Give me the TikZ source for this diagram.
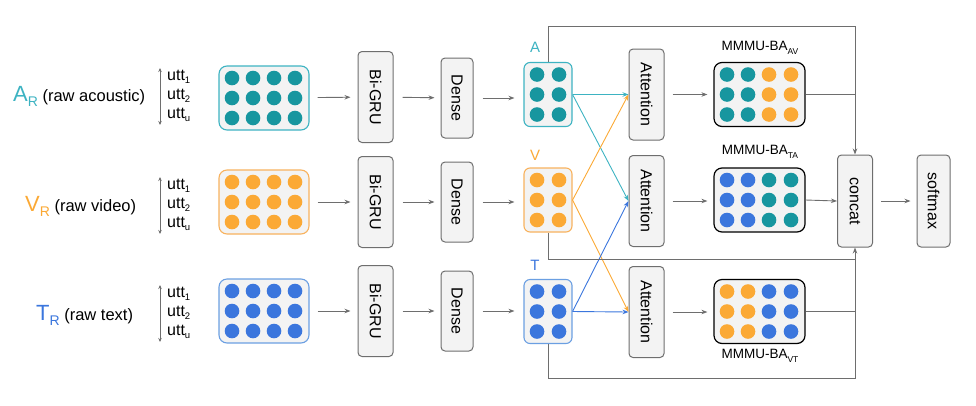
\documentclass[tikz,border=0pt]{standalone}
\usepackage{fontspec}
\setmainfont{Liberation Sans}
\usetikzlibrary{arrows.meta}
\definecolor{cteal}{HTML}{17969F}
\definecolor{ctealL}{HTML}{3DB3C2}
\definecolor{corange}{HTML}{FBA935}
\definecolor{corangeL}{HTML}{F8B25E}
\definecolor{cblue}{HTML}{3B76DD}
\definecolor{cblueL}{HTML}{6B9FE2}
\definecolor{cline}{HTML}{6E6E6E}
\definecolor{cfill}{HTML}{F3F3F3}
\newcommand{\sub}[2]{#1\raisebox{-3.5pt}{\fontsize{9.5}{9.5}\selectfont #2}}
\newcommand{\subm}[2]{#1\raisebox{-3.5pt}{\fontsize{8.5}{8.5}\selectfont #2}}
\begin{document}
\begin{tikzpicture}[x=1pt,y=-1pt,
  gbox/.style={draw=cline, fill=cfill, rounded corners=4pt, line width=1pt, inner sep=0pt, font=\fontsize{16}{16}\selectfont},
  inbox/.style={fill=cfill, rounded corners=8pt, line width=1.1pt, minimum width=90pt, minimum height=64pt, inner sep=0pt},
  smbox/.style={fill=cfill, rounded corners=6pt, line width=1.1pt, minimum width=48pt, minimum height=64pt, inner sep=0pt},
  mbox/.style={draw=black, fill=cfill, rounded corners=8pt, line width=1.2pt, minimum width=91pt, minimum height=64pt, inner sep=0pt},
  arr/.style={draw=cline, line width=0.9pt, -{Stealth[length=6pt,width=4.5pt]}},
  ln/.style={draw=cline, line width=0.9pt},
  carr/.style={line width=0.9pt, -{Stealth[length=6pt,width=4.5pt]}},
  lbl/.style={font=\fontsize{16.5}{16.5}\selectfont, anchor=west, inner sep=0pt},
  utt/.style={font=\fontsize{16}{16}\selectfont, anchor=west, inner sep=0pt},
  dbl/.style={draw=cline, line width=0.9pt, {Stealth[length=4pt,width=3.5pt]}-{Stealth[length=4pt,width=3.5pt]}}
]
\useasboundingbox (0,0) rectangle (976,405);

% ---------- left labels ----------
\node[lbl] (lA) at (13,96) {\textcolor{ctealL}{{\fontsize{22}{22}\selectfont A}\raisebox{-5pt}{\fontsize{14}{14}\selectfont R}} (raw acoustic)};
\node[lbl] (lV) at (25,206) {\textcolor{corange}{{\fontsize{22}{22}\selectfont V}\raisebox{-5pt}{\fontsize{14}{14}\selectfont R}} (raw video)};
\node[lbl] (lT) at (36,315) {\textcolor{cblue}{{\fontsize{22}{22}\selectfont T}\raisebox{-5pt}{\fontsize{14}{14}\selectfont R}} (raw text)};

% ---------- utt stacks ----------
\foreach \r/\yc in {A/96, V/205, T/313}{
  \coordinate (ut\r) at (160,\yc-28);
  \coordinate (ub\r) at (160,\yc+29);
  \draw[dbl] (ut\r) -- (ub\r);
  \node[utt] (u1\r) at (167,\yc-19) {\sub{utt}{1}};
  \node[utt] (u2\r) at (167,\yc+0) {\sub{utt}{2}};
  \node[utt] (u3\r) at (167,\yc+19) {\sub{utt}{u}};
}

% ---------- input boxes ----------
\node[inbox, draw=ctealL] (inA) at (264,98) {};
\node[inbox, draw=corangeL] (inV) at (264,202) {};
\node[inbox, draw=cblueL] (inT) at (264,311) {};
\foreach \x in {232,253,274,295}{
  \foreach \dy in {-20,0,20}{
    \fill[cteal] (\x,98+\dy) circle (7.3);
    \fill[corange] (\x,202+\dy) circle (7.3);
    \fill[cblue] (\x,311+\dy) circle (7.3);
  }
}

% ---------- Bi-GRU ----------
\node[gbox, minimum width=35pt, minimum height=91pt] (gA) at (375.5,97) {\rotatebox{-90}{Bi-GRU}};
\node[gbox, minimum width=35pt, minimum height=91pt] (gV) at (375.5,202) {\rotatebox{-90}{Bi-GRU}};
\node[gbox, minimum width=35pt, minimum height=91pt] (gT) at (375.5,311) {\rotatebox{-90}{Bi-GRU}};
% ---------- Dense ----------
\node[gbox, minimum width=32pt, minimum height=80pt] (dA) at (457,98) {\rotatebox{-90}{Dense}};
\node[gbox, minimum width=32pt, minimum height=80pt] (dV) at (457,202) {\rotatebox{-90}{Dense}};
\node[gbox, minimum width=32pt, minimum height=80pt] (dT) at (457,311) {\rotatebox{-90}{Dense}};

% ---------- small boxes ----------
\node[smbox, draw=ctealL] (aA) at (548,94.5) {};
\node[smbox, draw=corangeL] (aV) at (548,200) {};
\node[smbox, draw=cblueL] (aT) at (548,311.5) {};
\foreach \x in {537,559}{
  \foreach \dy in {-20,0,20}{
    \fill[cteal] (\x,94.5+\dy) circle (7.3);
    \fill[corange] (\x,200+\dy) circle (7.3);
    \fill[cblue] (\x,311.5+\dy) circle (7.3);
  }
}
\node[text=ctealL, font=\fontsize{15}{15}\selectfont] (tA) at (535,47) {A};
\node[text=corange, font=\fontsize{15}{15}\selectfont] (tV) at (535,155) {V};
\node[text=cblue, font=\fontsize{15}{15}\selectfont] (tT) at (535,265) {T};

% ---------- Attention ----------
\node[gbox, minimum width=35pt, minimum height=91pt] (attA) at (646.5,94.5) {\rotatebox{-90}{Attention}};
\node[gbox, minimum width=35pt, minimum height=91pt] (attV) at (646.5,201) {\rotatebox{-90}{Attention}};
\node[gbox, minimum width=35pt, minimum height=91pt] (attT) at (646.5,312) {\rotatebox{-90}{Attention}};

% ---------- MMMU boxes ----------
\node[mbox] (mAV) at (759.5,94.5) {};
\node[mbox] (mTA) at (759.5,200) {};
\node[mbox] (mVT) at (759.5,311.5) {};
\foreach \dy in {-20,0,20}{
  \foreach \x in {727,748}{
    \fill[cteal] (\x,94.5+\dy) circle (7.3);
    \fill[cblue] (\x,200+\dy) circle (7.3);
    \fill[corange] (\x,311.5+\dy) circle (7.3);
  }
  \foreach \x in {769,791}{
    \fill[corange] (\x,94.5+\dy) circle (7.3);
    \fill[cteal] (\x,200+\dy) circle (7.3);
    \fill[cblue] (\x,311.5+\dy) circle (7.3);
  }
}
\node[font=\fontsize{13.5}{13.5}\selectfont, inner sep=0pt] (lAV) at (760,48) {\subm{MMMU-BA}{AV}};
\node[font=\fontsize{13.5}{13.5}\selectfont, inner sep=0pt] (lTA) at (760,152) {\subm{MMMU-BA}{TA}};
\node[font=\fontsize{13.5}{13.5}\selectfont, inner sep=0pt] (lVT) at (760,356) {\subm{MMMU-BA}{VT}};

% ---------- concat & softmax ----------
\node[gbox, minimum width=35pt, minimum height=92pt] (concat) at (855,201) {\rotatebox{-90}{concat}};
\node[gbox, minimum width=33pt, minimum height=92pt] (soft) at (933.5,201) {\rotatebox{-90}{softmax}};

% ---------- arrows ----------
\foreach \r in {A,V,T}{
  \draw[arr, shorten <=8pt, shorten >=7pt] (in\r) -- (g\r);
  \draw[arr, shorten <=9pt, shorten >=6pt] (g\r) -- (d\r);
  \draw[arr, shorten <=9pt, shorten >=9pt] (d\r.east) -- (d\r.east -| a\r.west);
}
\draw[arr, shorten <=8pt, shorten >=6pt] (attA.east) -- (attA.east -| mAV.west);
\draw[arr, shorten <=8pt, shorten >=6pt] (attV.east) -- (attV.east -| mTA.west);
\draw[arr, shorten <=8pt, shorten >=6pt] (attT.east) -- (attT.east -| mVT.west);

% cross connections
\draw[carr, ctealL] (aA.east) -- (attA.west);
\draw[carr, ctealL] (aA.east) -- (attV.west);
\draw[carr, corange] (aV.east) -- (attA.west);
\draw[carr, corange] (aV.east) -- (attT.west);
\draw[carr, cblue] (aT.east) -- (attT.west);
\draw[carr, cblue] (aT.east) -- (attV.west);

% skip connections to concat
\coordinate (ctop) at (855,26);
\coordinate (cbot) at (855,378);
\coordinate (cmid) at (855,259);
\draw[arr] (aA.north) |- (ctop) -- (concat.north);
\draw[arr] (aT.south) |- (cbot) -- (concat.south);
\draw[ln] (aV.south) |- (cmid);
\draw[ln] (mAV.east) -- (mAV.east -| concat.north);
\draw[ln] (mVT.east) -- (mVT.east -| concat.south);
\draw[arr] (mTA.east) -- (concat.west);
\draw[arr, shorten <=8pt, shorten >=6pt] (concat) -- (soft);
\end{tikzpicture}
\end{document}
